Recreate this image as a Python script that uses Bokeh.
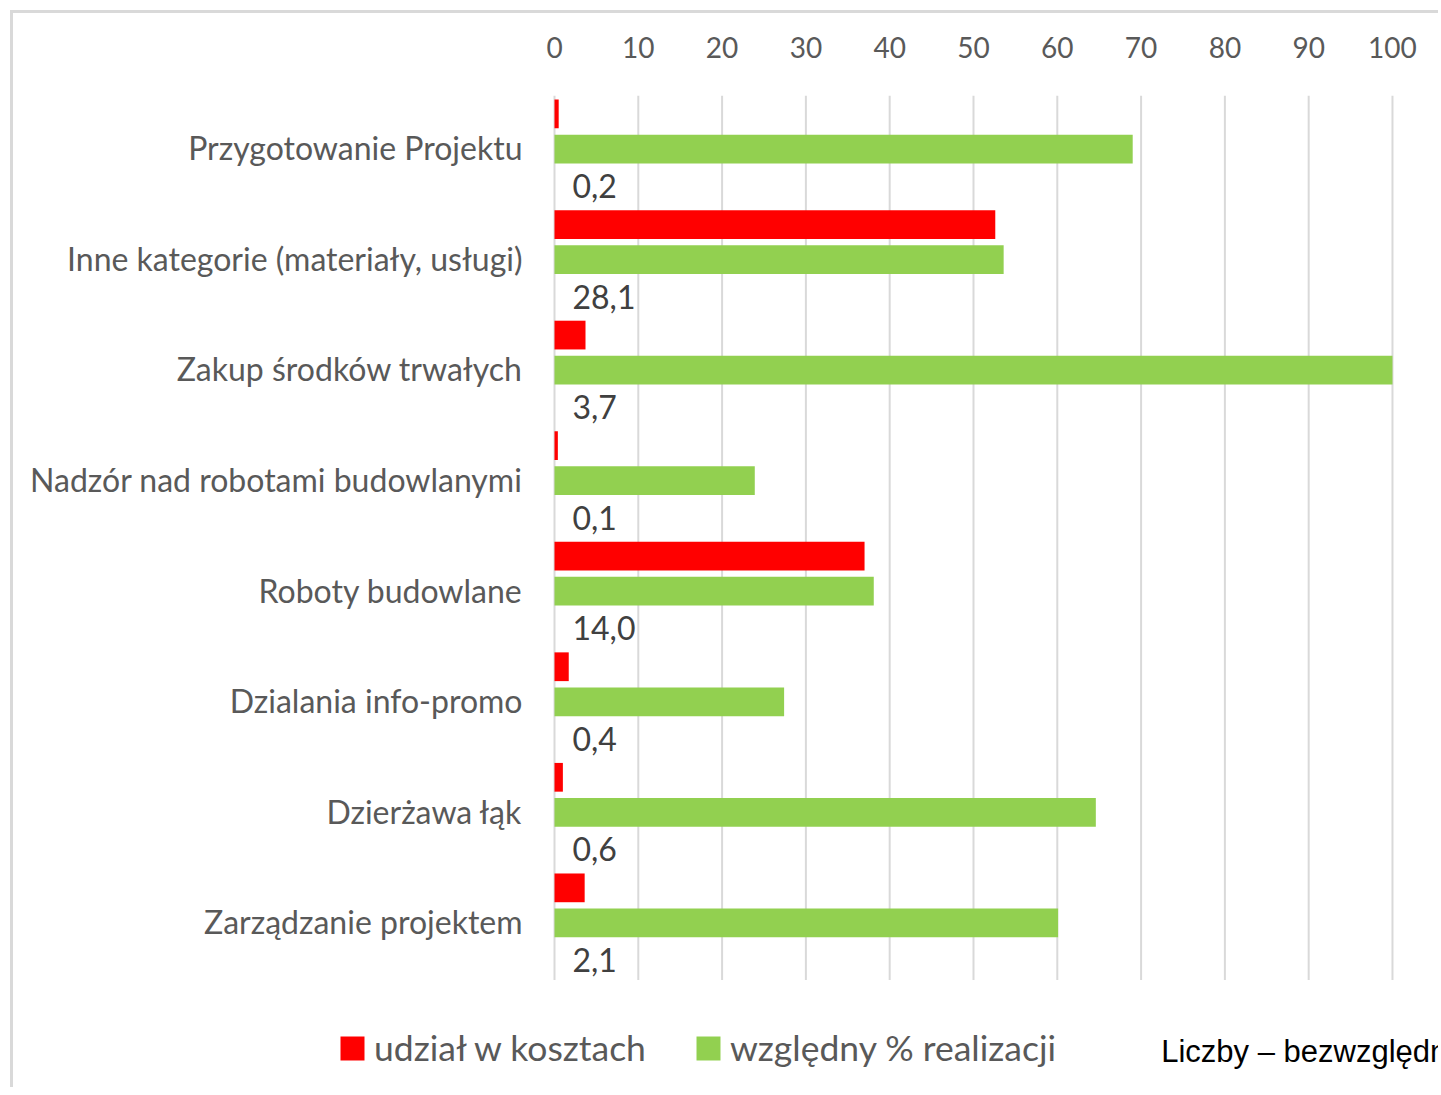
from bokeh.plotting import figure
from bokeh.models import FactorRange, Range1d, FixedTicker, Legend, LegendItem, Label, ColumnDataSource
from bokeh.transform import dodge
from bokeh.core.properties import value
from bokeh.embed import file_html
from bokeh.resources import INLINE

categories = ["Przygotowanie Projektu", "Inne kategorie (materiały, usługi)", "Zakup środków trwałych",
              "Nadzór nad robotami budowlanymi", "Roboty budowlane", "Dzialania info-promo",
              "Dzierżawa łąk", "Zarządzanie projektem"]
udzial = [0.5, 52.6, 3.7, 0.4, 37.0, 1.7, 1.0, 3.6]
realizacja = [69.0, 53.6, 100.0, 23.9, 38.1, 27.4, 64.6, 60.1]
bezwzgledne = ["0,2", "28,1", "3,7", "0,1", "14,0", "0,4", "0,6", "2,1"]
x_ticks = [0, 10, 20, 30, 40, 50, 60, 70, 80, 90, 100]
note = "Liczby – bezwzględne"

FONT = "Lato"
GRAY = "#595959"
GRID = "#d9d9d9"

src = ColumnDataSource(dict(cat=categories, red=udzial, green=realizacja, lab=bezwzgledne,
                            zero=[0] * len(categories)))

n = len(categories)
# bottom spacer factor (one band) holds legend and note inside the frame
factors = [" "] + categories[::-1]

W, H = 1428, 1077
FRAME_TOP = 82
p = figure(width=W, height=H, output_backend="svg", toolbar_location=None,
           y_range=FactorRange(factors=factors, range_padding=0),
           x_range=Range1d(-64.56, 105.85), x_axis_location="above",
           min_border_left=0, min_border_top=FRAME_TOP, min_border_right=0,
           min_border_bottom=0)
p.styles = {"border-top": "3px solid #d9d9d9", "border-left": "3px solid #d9d9d9",
            "margin": "10px 0 0 10px"}
p.outline_line_color = None
p.background_fill_color = "white"
p.yaxis.visible = False

# vertical grid lines limited to the category bands
p.segment(x0=x_ticks, x1=x_ticks, y0=[1] * len(x_ticks), y1=[n + 1] * len(x_ticks),
          line_color=GRID, line_width=2)

r_red = p.hbar(y=dodge("cat", 0.333, range=p.y_range), left="zero", right="red", height=0.26,
               source=src, fill_color="#FF0000", line_color=None)
r_green = p.hbar(y=dodge("cat", 0.016, range=p.y_range), left="zero", right="green", height=0.26,
                 source=src, fill_color="#92D050", line_color=None)
p.text(x="zero", y=dodge("cat", -0.32, range=p.y_range), text="lab", source=src,
       x_offset=18, text_baseline="middle", text_align="left",
       text_font=value(FONT), text_font_size="32px", text_color="#404040")
# category labels
p.text(x="zero", y=dodge("cat", 0.027, range=p.y_range), text="cat", source=src,
       x_offset=-32, text_baseline="middle", text_align="right",
       text_font=value(FONT), text_font_size="32px", text_color=GRAY)

p.xaxis.ticker = FixedTicker(ticks=x_ticks)
p.xaxis.axis_line_color = None
p.xaxis.major_tick_line_color = None
p.xaxis.minor_tick_line_color = None
p.xaxis.major_label_text_font = FONT
p.xaxis.major_label_text_font_size = "28px"
p.xaxis.major_label_text_color = GRAY
p.xaxis.major_label_standoff = 32

p.xgrid.grid_line_color = None
p.ygrid.grid_line_color = None

legend = Legend(items=[LegendItem(label="udział w kosztach", renderers=[r_red]),
                       LegendItem(label="względny % realizacji", renderers=[r_green])],
                orientation="horizontal", location=(324, 21),
                glyph_width=30, glyph_height=30, label_standoff=7, spacing=47,
                padding=0, margin=0, border_line_color=None, background_fill_alpha=0,
                label_text_font=FONT, label_text_font_size="35.5px", label_text_color=GRAY)
p.add_layout(legend, "center")

p.add_layout(Label(x=72.4, y=0.353, text=note, text_font="Liberation Sans",
                   text_font_size="31px", text_color="black", text_baseline="alphabetic"))

open("out.html", "w").write(file_html(p, INLINE))
